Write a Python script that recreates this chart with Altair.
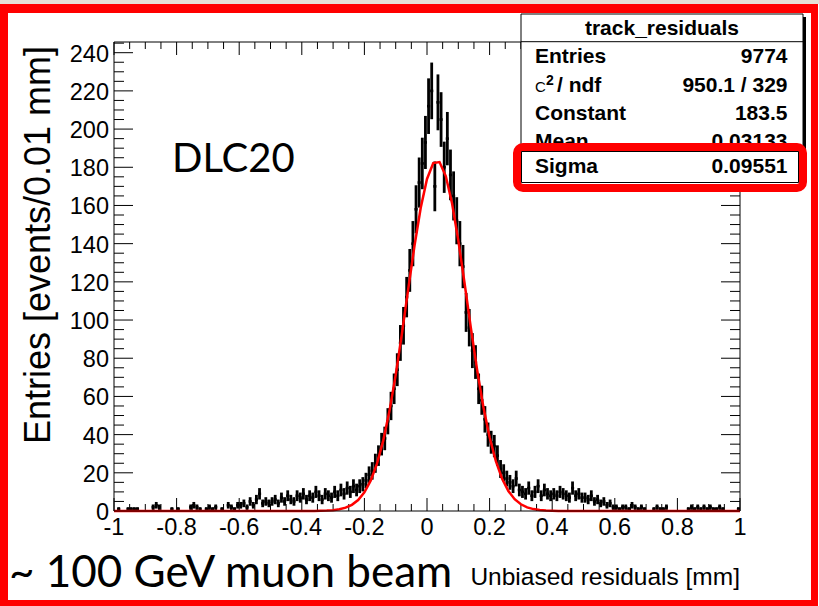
import numpy as np
import pandas as pd
import altair as alt

# ---------------------------------------------------------------------------
# Track residual histogram: 200 bins of 0.01 mm covering [-1, 1] mm
# ---------------------------------------------------------------------------
bin_low = -1.0
bin_width = 0.01
counts = [
    0, 1, 0, 0, 1, 1, 1, 1, 0, 0,
    0, 0, 2, 3, 2, 0, 0, 0, 1, 0,
    1, 0, 0, 0, 2, 3, 2, 1, 0, 1,
    2, 1, 2, 0, 1, 0, 3, 2, 1, 3,
    3, 4, 2, 5, 3, 6, 9, 4, 5, 4,
    5, 6, 4, 7, 5, 8, 6, 5, 8, 7,
    9, 6, 8, 7, 10, 8, 6, 9, 8, 7,
    10, 8, 11, 9, 12, 10, 13, 11, 13, 14,
    16, 19, 21, 25, 29, 35, 38, 47, 55, 64,
    74, 88, 97, 112, 126, 140, 158, 172, 182, 193,
    212, 220, 170, 214, 205, 180, 195, 176, 165, 152,
    140, 128, 104, 96, 84, 78, 64, 58, 48, 40,
    36, 34, 29, 22, 20, 17, 15, 13, 17, 11,
    10, 9, 12, 8, 10, 13, 8, 11, 9, 8,
    9, 8, 10, 9, 8, 7, 12, 8, 9, 7,
    7, 6, 8, 5, 6, 4, 5, 3, 4, 2,
    2, 1, 2, 2, 1, 3, 2, 1, 2, 1,
    0, 0, 1, 2, 1, 1, 2, 0, 0, 0,
    0, 0, 0, 1, 2, 1, 2, 1, 2, 1,
    2, 1, 1, 2, 1, 0, 0, 0, 0, 1,
]

# Gaussian fit result
fit_constant = 183.5
fit_mean = 0.03133
fit_sigma = 0.09551

# Statistics box
stats_title = "track_residuals"
stats_rows = [("Entries", "9774"), (None, "950.1 / 329"), ("Constant", "183.5"), ("Mean", "0.03133")]
sigma_row = ("Sigma", "0.09551")

# Axis ticks and labels
x_major = [-1.0, -0.8, -0.6, -0.4, -0.2, 0.0, 0.2, 0.4, 0.6, 0.8, 1.0]
x_labels = ["-1", "-0.8", "-0.6", "-0.4", "-0.2", "0", "0.2", "0.4", "0.6", "0.8", "1"]
y_major = [0, 20, 40, 60, 80, 100, 120, 140, 160, 180, 200, 220, 240]
y_labels = [str(v) for v in y_major]
y_top = 245.6

# ---------------------------------------------------------------------------
# Layout (page pixels); the plot frame starts at (OX, OY)
# ---------------------------------------------------------------------------
OX, OY = 114, 42
W, H = 626, 469
PAGE_W, PAGE_H = 819, 606

xs = alt.Scale(domain=[-1, 1], nice=False, zero=False)
ys = alt.Scale(domain=[0, y_top], nice=False, zero=False)

one = pd.DataFrame({"k": [0]})


def px(x):
    return x - OX


def py(y):
    return y - OY


def box(x1, y1, x2, y2, **style):
    return alt.Chart(one).mark_rect(**style).encode(
        x=alt.value(px(x1)), x2=alt.value(px(x2)),
        y=alt.value(py(y1)), y2=alt.value(py(y2)))


def line(x1, y1, x2, y2, color="black", width=1):
    return alt.Chart(one).mark_rule(color=color, strokeWidth=width).encode(
        x=alt.value(px(x1)), x2=alt.value(px(x2)),
        y=alt.value(py(y1)), y2=alt.value(py(y2)))


def label(text, x, y, size, font="Liberation Sans", weight="normal", align="left", angle=0, color="black"):
    return alt.Chart(one).mark_text(
        text=text, fontSize=size, font=font, fontWeight=weight, align=align,
        baseline="alphabetic", angle=angle, color=color).encode(
        x=alt.value(px(x)), y=alt.value(py(y)))


# ---------------------------------------------------------------------------
# Data tables
# ---------------------------------------------------------------------------
n = np.array(counts, dtype=float)
lo = bin_low + bin_width * np.arange(len(n))
hist = pd.DataFrame({"lo": lo, "hi": lo + bin_width, "c": lo + bin_width / 2, "n": n})
hist = hist[hist["n"] > 0].copy()
hist["err_lo"] = hist["n"] - np.sqrt(hist["n"])
hist["err_hi"] = hist["n"] + np.sqrt(hist["n"])

fx = np.linspace(-1, 1, 101)
fit = pd.DataFrame({"x": fx, "f": fit_constant * np.exp(-0.5 * ((fx - fit_mean) / fit_sigma) ** 2)})

x_minor = [round(v, 2) for v in np.arange(-1, 1.0001, 0.05) if abs(v * 5 - round(v * 5)) > 1e-6]
y_minor = [v for v in range(0, 246, 5) if v % 20 != 0]
xmaj = pd.DataFrame({"v": x_major, "t": x_labels})
xmin = pd.DataFrame({"v": x_minor})
ymaj = pd.DataFrame({"v": y_major, "t": y_labels})
ymin = pd.DataFrame({"v": y_minor})

# ---------------------------------------------------------------------------
# Layers
# ---------------------------------------------------------------------------
layers = []

# page: white sheet with red border
layers.append(box(0, 4, PAGE_W, PAGE_H, fill="white"))
layers.append(box(0, 4, 8, PAGE_H, fill="#ff0000"))
layers.append(box(0, 4, 818, 13, fill="#ff0000"))
layers.append(box(811, 4, 818, PAGE_H, fill="#ff0000"))
layers.append(box(0, 600, 818, PAGE_H, fill="#ff0000"))

# frame ticks (pointing inward on all four sides)
tick_col = "black"
layers.append(alt.Chart(xmaj).mark_rule(color=tick_col, strokeWidth=1).encode(
    x=alt.X("v:Q", scale=xs, axis=None), y=alt.value(H), y2=alt.value(H - 13)))
layers.append(alt.Chart(xmin).mark_rule(color=tick_col, strokeWidth=1).encode(
    x=alt.X("v:Q", scale=xs, axis=None), y=alt.value(H), y2=alt.value(H - 7)))
layers.append(alt.Chart(xmaj).mark_rule(color=tick_col, strokeWidth=1).encode(
    x=alt.X("v:Q", scale=xs, axis=None), y=alt.value(0), y2=alt.value(13)))
layers.append(alt.Chart(xmin).mark_rule(color=tick_col, strokeWidth=1).encode(
    x=alt.X("v:Q", scale=xs, axis=None), y=alt.value(0), y2=alt.value(7)))
layers.append(alt.Chart(ymaj).mark_rule(color=tick_col, strokeWidth=1).encode(
    y=alt.Y("v:Q", scale=ys, axis=None), x=alt.value(0), x2=alt.value(19)))
layers.append(alt.Chart(ymin).mark_rule(color=tick_col, strokeWidth=1).encode(
    y=alt.Y("v:Q", scale=ys, axis=None), x=alt.value(0), x2=alt.value(10)))
layers.append(alt.Chart(ymaj).mark_rule(color=tick_col, strokeWidth=1).encode(
    y=alt.Y("v:Q", scale=ys, axis=None), x=alt.value(W), x2=alt.value(W - 19)))
layers.append(alt.Chart(ymin).mark_rule(color=tick_col, strokeWidth=1).encode(
    y=alt.Y("v:Q", scale=ys, axis=None), x=alt.value(W), x2=alt.value(W - 10)))

# tick labels
layers.append(alt.Chart(xmaj).mark_text(fontSize=23.5, font="Liberation Sans", align="center",
                                        baseline="alphabetic").encode(
    x=alt.X("v:Q", scale=xs, axis=None), y=alt.value(py(535)), text="t:N"))
layers.append(alt.Chart(ymaj).mark_text(fontSize=23.5, font="Liberation Sans", align="right",
                                        baseline="middle", dy=2).encode(
    y=alt.Y("v:Q", scale=ys, axis=None), x=alt.value(px(109)), text="t:N"))

# histogram with Poisson error bars
layers.append(alt.Chart(hist).mark_rule(color="black", strokeWidth=2.8).encode(
    x=alt.X("c:Q", scale=xs, axis=None),
    y=alt.Y("err_lo:Q", scale=ys, axis=None), y2="err_hi:Q"))
layers.append(alt.Chart(hist).mark_rule(color="black", strokeWidth=2.6).encode(
    x=alt.X("lo:Q", scale=xs, axis=None), x2="hi:Q",
    y=alt.Y("n:Q", scale=ys, axis=None)))

# Gaussian fit
layers.append(alt.Chart(fit).mark_line(color="#ff0000", strokeWidth=2.5).encode(
    x=alt.X("x:Q", scale=xs, axis=None), y=alt.Y("f:Q", scale=ys, axis=None)))

# plot frame
layers.append(box(OX, OY, OX + W, OY + H, fillOpacity=0, stroke="black", strokeWidth=1))

# titles and annotations
layers.append(label("Entries [events/0.01 mm]", 50, 245, 36, align="center", angle=270))
layers.append(label("Unbiased residuals [mm]", 740, 585, 24.5, align="right"))
layers.append(label("~ 100 GeV muon beam", 9, 587, 44, font="Lato"))
layers.append(label("DLC20", 172, 172, 40, font="Lato"))

# statistics box
layers.append(box(524, 17, 806, 185, fill="black"))
layers.append(box(521, 14, 803, 182, fill="white", stroke="black", strokeWidth=1))
layers.append(line(521, 41.7, 803, 41.7))
layers.append(label(stats_title, 662, 35, 21, weight="bold", align="center"))
row_base = [63, 92, 120, 148]
for (name, val), yb in zip(stats_rows, row_base):
    if name is not None:
        layers.append(label(name, 535, yb, 21, weight="bold"))
    layers.append(label(val, 787.5, yb, 21, weight="bold", align="right"))
# chi-square row label
layers.append(label("C", 535, 92, 15))
layers.append(label("2", 546, 85, 14, weight="bold"))
layers.append(label("/ ndf", 557, 92, 21, weight="bold"))

# highlighted sigma row
layers.append(box(517, 147, 803, 188, fill="white", stroke="#ff0000", strokeWidth=8, cornerRadius=6))
layers.append(box(521.5, 151.5, 798.5, 182.5, fillOpacity=0, stroke="black", strokeWidth=1))
layers.append(label(sigma_row[0], 535, 173, 21, weight="bold"))
layers.append(label(sigma_row[1], 787.5, 173, 21, weight="bold", align="right"))

chart = alt.layer(*layers).properties(
    width=W, height=H,
    padding={"left": OX, "top": OY, "right": PAGE_W - OX - W, "bottom": PAGE_H - OY - H},
    autosize=alt.AutoSizeParams(type="none"),
).configure(background="#e6e0d6").configure_view(stroke="transparent")

chart.save("out.html", embed_options={"renderer": "svg", "actions": False})
